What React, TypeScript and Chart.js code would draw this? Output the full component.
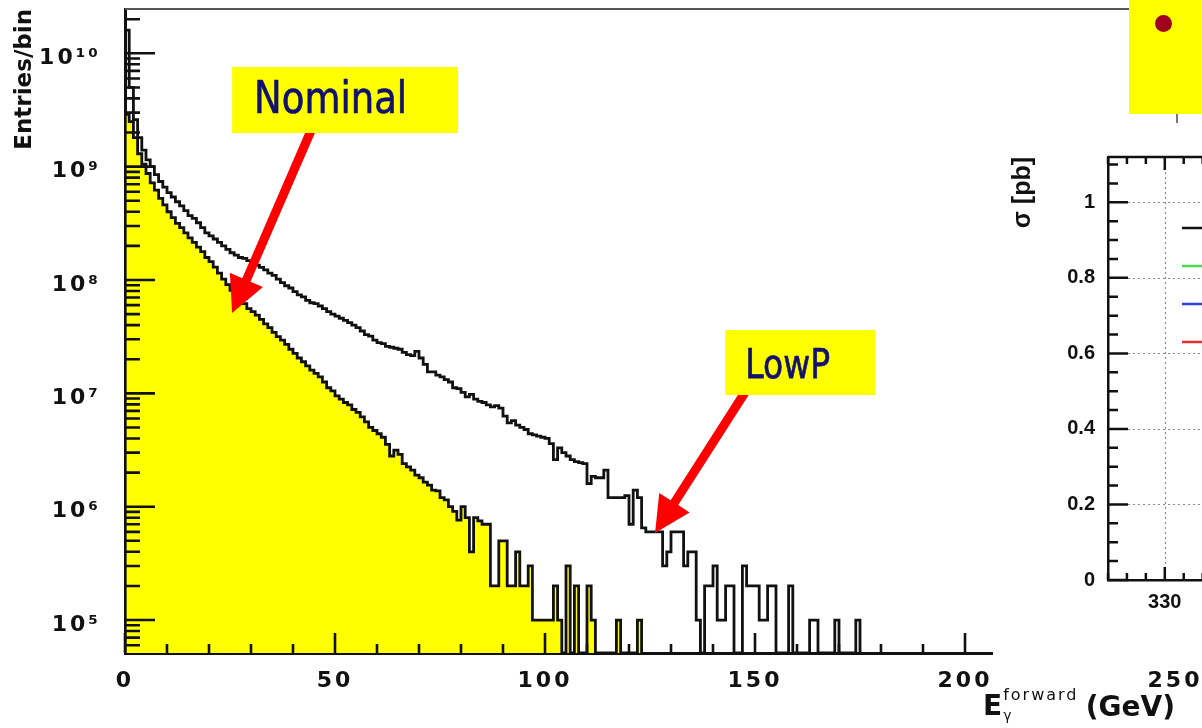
import React, { useEffect, useRef } from "react";
import { Chart, registerables } from "chart.js";

Chart.register(...registerables);

// ---------------- data (main histogram, 1 GeV bins starting at 0 GeV) ----------------
const BIN_WIDTH_GEV = 1;

const lowPCounts = [
  1.6e10, 5.0e9, 2.6e9, 1.8e9, 1.4e9, 1.15e9, 1.0e9, 8.5e8, 7.4e8, 6.6e8,
  5.9e8, 5.4e8, 4.9e8, 4.5e8, 4.1e8, 3.7e8, 3.5e8, 3.2e8, 2.9e8, 2.6e8,
  2.45e8, 2.3e8, 2.15e8, 2.0e8, 1.86e8, 1.74e8, 1.66e8, 1.58e8, 1.55e8, 1.48e8,
  1.41e8, 1.35e8, 1.29e8, 1.23e8, 1.15e8, 1.1e8, 1.02e8, 9.5e7, 8.9e7, 8.5e7,
  7.9e7, 7.4e7, 7.1e7, 6.6e7, 6.3e7, 6.2e7, 5.9e7, 5.6e7, 5.25e7, 5.0e7,
  4.8e7, 4.6e7, 4.4e7, 4.2e7, 4.0e7, 3.8e7, 3.55e7, 3.3e7, 3.2e7, 2.95e7,
  2.8e7, 2.75e7, 2.6e7, 2.55e7, 2.5e7, 2.45e7, 2.3e7, 2.2e7, 2.15e7, 2.35e7,
  2.05e7, 1.8e7, 1.55e7, 1.55e7, 1.45e7, 1.4e7, 1.32e7, 1.26e7, 1.12e7, 1.1e7,
  1.02e7, 9.3e6, 9.8e6, 8.9e6, 8.5e6, 8.3e6, 7.9e6, 7.6e6, 7.8e6, 7.4e6,
  6.3e6, 5.5e6, 5.75e6, 5.25e6, 5.0e6, 4.8e6, 4.4e6, 4.3e6, 4.2e6, 4.1e6,
  4.0e6, 3.6e6, 2.6e6, 3.3e6, 3.0e6, 2.8e6, 2.6e6, 2.5e6, 2.45e6, 2.4e6,
  1.6e6, 1.85e6, 1.8e6, 1.8e6, 2.1e6, 1.2e6, 1.2e6, 1.2e6, 1.2e6, 1.25e6,
  7e5, 1.4e6, 1.2e6, 6.5e5, 6e5, 6e5, 6e5, 6e5, 3e5, 4e5,
  6e5, 6e5, 6e5, 3e5, 4e5, 4e5, 1e5, 0, 2e5, 2e5,
  3e5, 1e5, 1e5, 2e5, 2e5, 0, 0, 3e5, 2e5, 2e5,
  2e5, 1e5, 1e5, 2e5, 2e5, 0, 0, 0, 2e5, 0,
  0, 0, 0, 1e5, 1e5, 0, 0, 0, 0, 1e5,
  0, 0, 0, 0, 1e5,
];

const nominalCounts = [
  2.9e9, 2.5e9, 1.8e9, 1.3e9, 1.05e9, 8.7e8, 7.2e8, 6.2e8, 5.25e8, 4.6e8,
  4.0e8, 3.55e8, 3.16e8, 2.9e8, 2.6e8, 2.35e8, 2.15e8, 1.95e8, 1.78e8, 1.58e8,
  1.45e8, 1.3e8, 1.15e8, 1.02e8, 9.1e7, 8.1e7, 7.4e7, 6.8e7, 6.2e7, 5.6e7,
  5.25e7, 4.9e7, 4.5e7, 4.1e7, 3.8e7, 3.45e7, 3.16e7, 2.95e7, 2.7e7, 2.45e7,
  2.25e7, 2.05e7, 1.9e7, 1.75e7, 1.6e7, 1.5e7, 1.4e7, 1.26e7, 1.12e7, 1.05e7,
  9.5e6, 8.9e6, 8.3e6, 7.9e6, 7.2e6, 6.8e6, 6.2e6, 5.6e6, 5.0e6, 4.7e6,
  4.4e6, 4.1e6, 3.55e6, 2.8e6, 3.16e6, 2.9e6, 2.4e6, 2.25e6, 2.1e6, 1.9e6,
  1.8e6, 1.65e6, 1.55e6, 1.4e6, 1.38e6, 1.2e6, 1.15e6, 1.0e6, 9.1e5, 7.6e5,
  1.0e6, 8e5, 4e5, 8e5, 7.5e5, 7e5, 7e5, 2e5, 2e5, 5e5,
  5e5, 2e5, 2e5, 4e5, 2e5, 2e5, 3e5, 1e5, 1e5, 1e5,
  1e5, 1e5, 2e5, 1e5, 0, 3e5, 0, 2e5, 0, 0,
  2e5, 1e5, 0, 0, 0, 0, 0, 1e5, 0, 0,
  0, 0, 1e5,
];

const xLabelTicks = [0, 50, 100, 150, 200, 250];
const X_MINOR_STEP = 10;
const yDecadeLabels = [5, 6, 7, 8, 9, 10];
const X_RANGE = [0, 250];
const Y_RANGE = [5.12e4, 2.46e10];

// ---------------- data (cropped side panel) ----------------
const sigmaTicks = [0, 0.2, 0.4, 0.6, 0.8, 1];
const massTicks = [330, 340, 350];
const SIGMA_RANGE = [0, 1.12];
const MASS_RANGE = [324, 352];
const legendColors = ["#111111", "#4cd64c", "#2f3fe0", "#e03030"];

// ---------------- annotations (anchors in data coordinates) ----------------
const annotations = [
  {
    text: "Nominal",
    box: { x: 25.5, y: 7.57e9, w: 226, h: 66 },
    textDx: 22, textDy: 46, fontSize: 37, vStretch: 1.2,
    tail: { x: 44.8, y: 2.3e9 }, tip: { x: 25.5, y: 5.12e7 },
  },
  {
    text: "LowP",
    box: { x: 142.9, y: 3.62e7, w: 150, h: 65 },
    textDx: 20, textDy: 48, fontSize: 33, vStretch: 1.25,
    tail: { x: 147.9, y: 1.06e7 }, tip: { x: 126.2, y: 5.86e5 },
  },
];

const SUP: Record<string, string> = {
  "0": "⁰", "1": "¹", "2": "²", "3": "³", "4": "⁴",
  "5": "⁵", "6": "⁶", "7": "⁷", "8": "⁸", "9": "⁹",
};
const sup = (n: number) => String(n).split("").map((c) => SUP[c] || c).join("");

function histPoints(counts: number[]) {
  const floor = Y_RANGE[0];
  const pts: { x: number; y: number }[] = [{ x: 0, y: floor }];
  counts.forEach((c, i) => {
    const v = c > 0 ? c : floor;
    pts.push({ x: i * BIN_WIDTH_GEV, y: v });
    pts.push({ x: (i + 1) * BIN_WIDTH_GEV, y: v });
  });
  pts.push({ x: counts.length * BIN_WIDTH_GEV, y: floor });
  return pts;
}

function logTicks() {
  const out: { value: number; major: boolean }[] = [];
  for (let e = 4; e <= 10; e++) {
    for (let m = 1; m <= 9; m++) {
      const v = m * Math.pow(10, e);
      if (v >= Y_RANGE[0] && v <= Y_RANGE[1]) out.push({ value: v, major: m === 1 });
    }
  }
  return out;
}

function drawArrow(ctx: CanvasRenderingContext2D, tx: number, ty: number, px: number, py: number) {
  const dx = px - tx, dy = py - ty;
  const len = Math.hypot(dx, dy);
  const ux = dx / len, uy = dy / len;
  const nx = -uy, ny = ux;
  const shaft = 4.5, headLen = 36, headHalf = 18;
  const bx = px - ux * headLen, by = py - uy * headLen;
  ctx.beginPath();
  ctx.moveTo(tx + nx * shaft, ty + ny * shaft);
  ctx.lineTo(bx + nx * shaft, by + ny * shaft);
  ctx.lineTo(bx + nx * headHalf, by + ny * headHalf);
  ctx.lineTo(px, py);
  ctx.lineTo(bx - nx * headHalf, by - ny * headHalf);
  ctx.lineTo(bx - nx * shaft, by - ny * shaft);
  ctx.lineTo(tx - nx * shaft, ty - ny * shaft);
  ctx.closePath();
  ctx.fillStyle = "#ff0000";
  ctx.fill();
}

// widen the (horizontally stretched looking) tick labels; they are drawn after datasets (ticks.z = 1)
const labelSpacing = {
  id: "labelSpacing",
  afterDatasetsDraw(chart: any) {
    (chart.ctx as any).letterSpacing = "3px";
  },
};

const mainDecor = {
  id: "mainDecor",
  afterDraw(chart: any) {
    const { ctx, chartArea: a, scales } = chart;
    (ctx as any).letterSpacing = "0px";
    const xs = scales.x, ys = scales.y;
    ctx.save();
    // frame (top and right)
    ctx.strokeStyle = "#555";
    ctx.lineWidth = 2;
    ctx.beginPath();
    ctx.moveTo(a.left, a.top);
    ctx.lineTo(a.right, a.top);
    ctx.lineTo(a.right, a.bottom);
    ctx.stroke();
    // inward ticks
    ctx.strokeStyle = "#111";
    ctx.lineWidth = 2.6;
    ctx.beginPath();
    ys.ticks.forEach((t: any) => {
      const e = Math.log10(t.value);
      const major = Math.abs(e - Math.round(e)) < 1e-9;
      const py = ys.getPixelForValue(t.value);
      ctx.moveTo(a.left, py);
      ctx.lineTo(a.left + (major ? 30 : 15), py);
    });
    for (let v = X_RANGE[0]; v <= X_RANGE[1]; v += X_MINOR_STEP) {
      const px = xs.getPixelForValue(v);
      const major = xLabelTicks.includes(v);
      ctx.moveTo(px, a.bottom);
      ctx.lineTo(px, a.bottom - (major ? 20 : 9));
    }
    ctx.stroke();

    // annotations
    annotations.forEach((an) => {
      const bx = xs.getPixelForValue(an.box.x);
      const by = ys.getPixelForValue(an.box.y);
      drawArrow(
        ctx,
        xs.getPixelForValue(an.tail.x), ys.getPixelForValue(an.tail.y),
        xs.getPixelForValue(an.tip.x), ys.getPixelForValue(an.tip.y)
      );
      ctx.fillStyle = "#ffff00";
      ctx.fillRect(bx, by, an.box.w, an.box.h);
      ctx.save();
      ctx.translate(bx + an.textDx, by + an.textDy);
      ctx.scale(1, an.vStretch);
      ctx.fillStyle = "#12126e";
      ctx.strokeStyle = "#12126e";
      ctx.lineWidth = 0.6;
      ctx.font = `${an.fontSize}px "DejaVu Sans"`;
      ctx.textAlign = "left";
      ctx.textBaseline = "alphabetic";
      ctx.fillText(an.text, 0, 0);
      ctx.strokeText(an.text, 0, 0);
      ctx.restore();
    });

    // x-axis title: E_γ^forward (GeV), right aligned at axis end
    ctx.fillStyle = "#111";
    ctx.textBaseline = "alphabetic";
    ctx.font = 'bold 28px "DejaVu Sans"';
    ctx.textAlign = "right";
    ctx.fillText("(GeV)", a.right, a.bottom + 63);
    ctx.textAlign = "left";
    const ex = a.right - 192;
    ctx.fillText("E", ex, a.bottom + 62);
    const ew = ctx.measureText("E").width;
    ctx.font = '16px "DejaVu Sans"';
    (ctx as any).letterSpacing = "2px";
    ctx.fillText("forward", ex + ew + 1, a.bottom + 47);
    (ctx as any).letterSpacing = "0px";
    ctx.font = '14px "DejaVu Sans"';
    ctx.fillText("γ", ex + ew + 1, a.bottom + 67);
    ctx.restore();
  },
};

const sideDecor = {
  id: "sideDecor",
  afterDraw(chart: any) {
    const { ctx, chartArea: a, scales } = chart;
    const xs = scales.x, ys = scales.y;
    ctx.save();
    // dotted grid
    ctx.strokeStyle = "#8a8a8a";
    ctx.lineWidth = 1.2;
    ctx.setLineDash([2, 3]);
    ctx.beginPath();
    sigmaTicks.forEach((v) => {
      if (v === 0) return;
      const py = Math.round(ys.getPixelForValue(v)) + 0.5;
      ctx.moveTo(a.left, py);
      ctx.lineTo(a.right, py);
    });
    massTicks.forEach((v) => {
      const px = Math.round(xs.getPixelForValue(v)) + 0.5;
      ctx.moveTo(px, a.top);
      ctx.lineTo(px, a.bottom);
    });
    ctx.stroke();
    ctx.setLineDash([]);
    // top frame
    ctx.strokeStyle = "#111";
    ctx.lineWidth = 2.5;
    ctx.beginPath();
    ctx.moveTo(a.left, a.top);
    ctx.lineTo(a.right, a.top);
    // y ticks every 0.05
    for (let k = 0; k * 0.05 <= SIGMA_RANGE[1] + 1e-9; k++) {
      const py = ys.getPixelForValue(k * 0.05);
      ctx.moveTo(a.left, py);
      ctx.lineTo(a.left + (k % 4 === 0 ? 20 : 10), py);
    }
    // x ticks every 2 (bottom and top)
    for (let v = MASS_RANGE[0]; v <= MASS_RANGE[1]; v += 2) {
      const px = xs.getPixelForValue(v);
      const len = massTicks.includes(v) ? 13 : 7;
      ctx.moveTo(px, a.bottom);
      ctx.lineTo(px, a.bottom - len);
      ctx.moveTo(px, a.top);
      ctx.lineTo(px, a.top + len);
    }
    ctx.stroke();
    // legend samples (cropped legend)
    ctx.lineWidth = 2.5;
    legendColors.forEach((c, i) => {
      const py = a.top + 71 + i * 38;
      ctx.strokeStyle = c;
      ctx.beginPath();
      ctx.moveTo(a.left + 74, py);
      ctx.lineTo(a.left + 110, py);
      ctx.stroke();
    });
    ctx.restore();
  },
};

export default function App() {
  const mainRef = useRef<HTMLCanvasElement>(null);
  const sideRef = useRef<HTMLCanvasElement>(null);

  useEffect(() => {
    document.body.style.margin = "0";
    const tickFont = { family: "DejaVu Sans", weight: "bold" as const, size: 22 };

    const main = new Chart(mainRef.current!, {
      type: "line",
      data: {
        datasets: [
          {
            label: "LowP",
            data: histPoints(lowPCounts),
            borderColor: "#111",
            borderWidth: 2.8,
            pointRadius: 0,
            fill: false,
            tension: 0,
            clip: 0,
          } as any,
          {
            label: "Nominal",
            data: histPoints(nominalCounts),
            borderColor: "#111",
            borderWidth: 2.8,
            backgroundColor: "#ffff00",
            pointRadius: 0,
            fill: "start",
            tension: 0,
            clip: 0,
          } as any,
        ],
      },
      options: {
        responsive: false,
        animation: false,
        devicePixelRatio: 1,
        events: [],
        layout: { padding: { top: 9, right: 27, left: 0, bottom: 0 } },
        plugins: { legend: { display: false }, tooltip: { enabled: false } },
        scales: {
          x: {
            type: "linear",
            min: X_RANGE[0],
            max: X_RANGE[1],
            grid: { display: false },
            border: { display: true, color: "#111", width: 3 },
            afterBuildTicks: (s: any) => {
              s.ticks = xLabelTicks.map((v) => ({ value: v }));
            },
            afterFit: (s: any) => {
              s.height = 75;
              s.paddingLeft = 0;
              s.paddingRight = 0;
            },
            ticks: {
              z: 1,
              autoSkip: false,
              maxRotation: 0,
              padding: 7,
              color: "#111",
              font: tickFont,
              callback: (v: any) => String(v),
            },
          },
          y: {
            type: "logarithmic",
            min: Y_RANGE[0],
            max: Y_RANGE[1],
            grid: { display: false },
            border: { display: true, color: "#111", width: 3 },
            afterBuildTicks: (s: any) => {
              s.ticks = logTicks();
            },
            afterFit: (s: any) => {
              s.width = 125;
              s.paddingTop = 0;
              s.paddingBottom = 0;
            },
            ticks: {
              z: 1,
              autoSkip: false,
              padding: 16,
              labelOffset: 5,
              color: "#111",
              font: tickFont,
              callback: (v: any) => {
                const e = Math.round(Math.log10(v));
                const isDecade = Math.abs(v - Math.pow(10, e)) < 1e-6 * v;
                return isDecade && yDecadeLabels.includes(e) ? "10" + sup(e) : "";
              },
            },
            title: {
              display: true,
              text: "Entries/bin",
              align: "end",
              color: "#111",
              font: { family: "DejaVu Sans", weight: "bold", size: 23 },
              padding: { top: 11, bottom: 0 },
            },
          },
        },
      } as any,
      plugins: [labelSpacing, mainDecor],
    });

    const side = new Chart(sideRef.current!, {
      type: "line",
      data: { datasets: [] },
      options: {
        responsive: false,
        animation: false,
        devicePixelRatio: 1,
        events: [],
        layout: { padding: { top: 43, right: 20, left: 0, bottom: 0 } },
        plugins: { legend: { display: false }, tooltip: { enabled: false } },
        scales: {
          x: {
            type: "linear",
            min: MASS_RANGE[0],
            max: MASS_RANGE[1],
            grid: { display: false },
            border: { display: true, color: "#111", width: 2.5 },
            afterBuildTicks: (s: any) => {
              s.ticks = massTicks.map((v) => ({ value: v }));
            },
            afterFit: (s: any) => {
              s.height = 79;
              s.paddingLeft = 0;
              s.paddingRight = 0;
            },
            ticks: {
              autoSkip: false,
              maxRotation: 0,
              padding: 2,
              color: "#111",
              font: { family: "Liberation Sans", weight: "bold", size: 20 },
              callback: (v: any) => String(v),
            },
          },
          y: {
            type: "linear",
            min: SIGMA_RANGE[0],
            max: SIGMA_RANGE[1],
            grid: { display: false },
            border: { display: true, color: "#111", width: 2.5 },
            afterBuildTicks: (s: any) => {
              s.ticks = sigmaTicks.map((v) => ({ value: v }));
            },
            afterFit: (s: any) => {
              s.width = 115;
              s.paddingTop = 0;
              s.paddingBottom = 0;
            },
            ticks: {
              autoSkip: false,
              padding: 5,
              color: "#111",
              font: { family: "Liberation Sans", weight: "bold", size: 20 },
              callback: (v: any) => (v === 0 ? "0" : v === 1 ? "1" : Number(v).toFixed(1)),
            },
            title: {
              display: true,
              text: "σ [pb]",
              align: "end",
              color: "#111",
              font: { family: "Liberation Sans", weight: "bold", size: 25 },
              padding: { top: 15, bottom: 0 },
            },
          },
        },
      } as any,
      plugins: [sideDecor],
    });

    return () => {
      main.destroy();
      side.destroy();
    };
  }, []);

  return (
    <div
      style={{
        position: "absolute",
        left: 0,
        top: 0,
        width: 1202,
        height: 728,
        overflow: "hidden",
        background: "#ffffff",
      }}
    >
      <canvas ref={mainRef} width={1202} height={728} style={{ position: "absolute", left: 0, top: 0 }} />
      <div
        style={{
          position: "absolute",
          left: 993,
          top: 114,
          width: 209,
          height: 545,
          overflow: "hidden",
          background: "#ffffff",
        }}
      >
        <canvas ref={sideRef} width={400} height={545} style={{ position: "absolute", left: 0, top: 0 }} />
        <div style={{ position: "absolute", left: 183, top: 0, width: 2, height: 9, background: "#777" }} />
      </div>
      <div
        style={{
          position: "absolute",
          left: 1129,
          top: 0,
          width: 73,
          height: 114,
          background: "#ffff00",
        }}
      >
        <div
          style={{
            position: "absolute",
            left: 26,
            top: 15,
            width: 17,
            height: 17,
            borderRadius: "50%",
            background: "#a0001e",
          }}
        />
      </div>
    </div>
  );
}
